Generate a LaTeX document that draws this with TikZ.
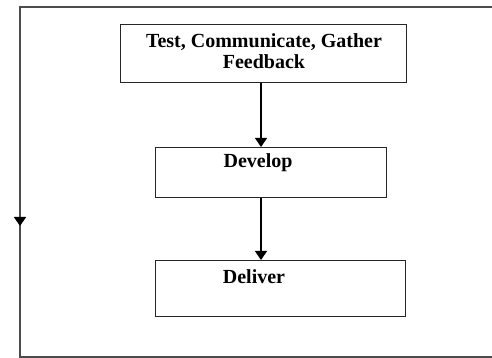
\documentclass[tikz,border=0pt]{standalone}
\usepackage{fontspec}
\setmainfont{Liberation Serif}
\usetikzlibrary{arrows.meta}
\begin{document}
\begin{tikzpicture}[x=1pt,y=1pt,
  box/.style={draw=black!85, line width=1.1pt, anchor=north west, inner sep=0pt},
  lbl/.style={font=\fontsize{20}{21}\selectfont\bfseries, align=center, inner sep=0pt},
  tip/.style={-{Triangle[width=12pt,length=9pt,fill=black,color=black]}},
  arr/.style={draw=black, line width=1.1pt, tip},
  frame/.style={draw=black!70, line width=1.6pt}]
\useasboundingbox (0,0) rectangle (492,358);
% outer loop frame
\coordinate (ftr) at (492,351);
\coordinate (ftl) at (20,351);
\coordinate (fmid) at (20,132);
\coordinate (fbl) at (20,1);
\coordinate (fbr) at (492,1);
\draw[frame] (ftr) -- (ftl) -- (fmid) -- (fbl) -- (fbr);
\coordinate (fup) at (20,160);
\draw[frame, tip] (fup) -- (fmid);
% boxes
\node[box, minimum width=286pt, minimum height=58pt] (b1) at (120,334) {};
\node[box, minimum width=231pt, minimum height=50pt] (dev) at (155,211) {};
\node[box, minimum width=250pt, minimum height=56pt] (del) at (155,98) {};
% labels
\node[lbl] (t1) at (264,306.5) {Test, Communicate, Gather\\Feedback};
\node[lbl] (t2) at (258,195) {Develop};
\node[lbl] (t3) at (254,81) {Deliver};
% arrows
\coordinate (ax) at (261,0);
\draw[arr] (b1.south -| ax) -- (dev.north -| ax);
\draw[arr] (dev.south -| ax) -- (del.north -| ax);
\end{tikzpicture}
\end{document}
